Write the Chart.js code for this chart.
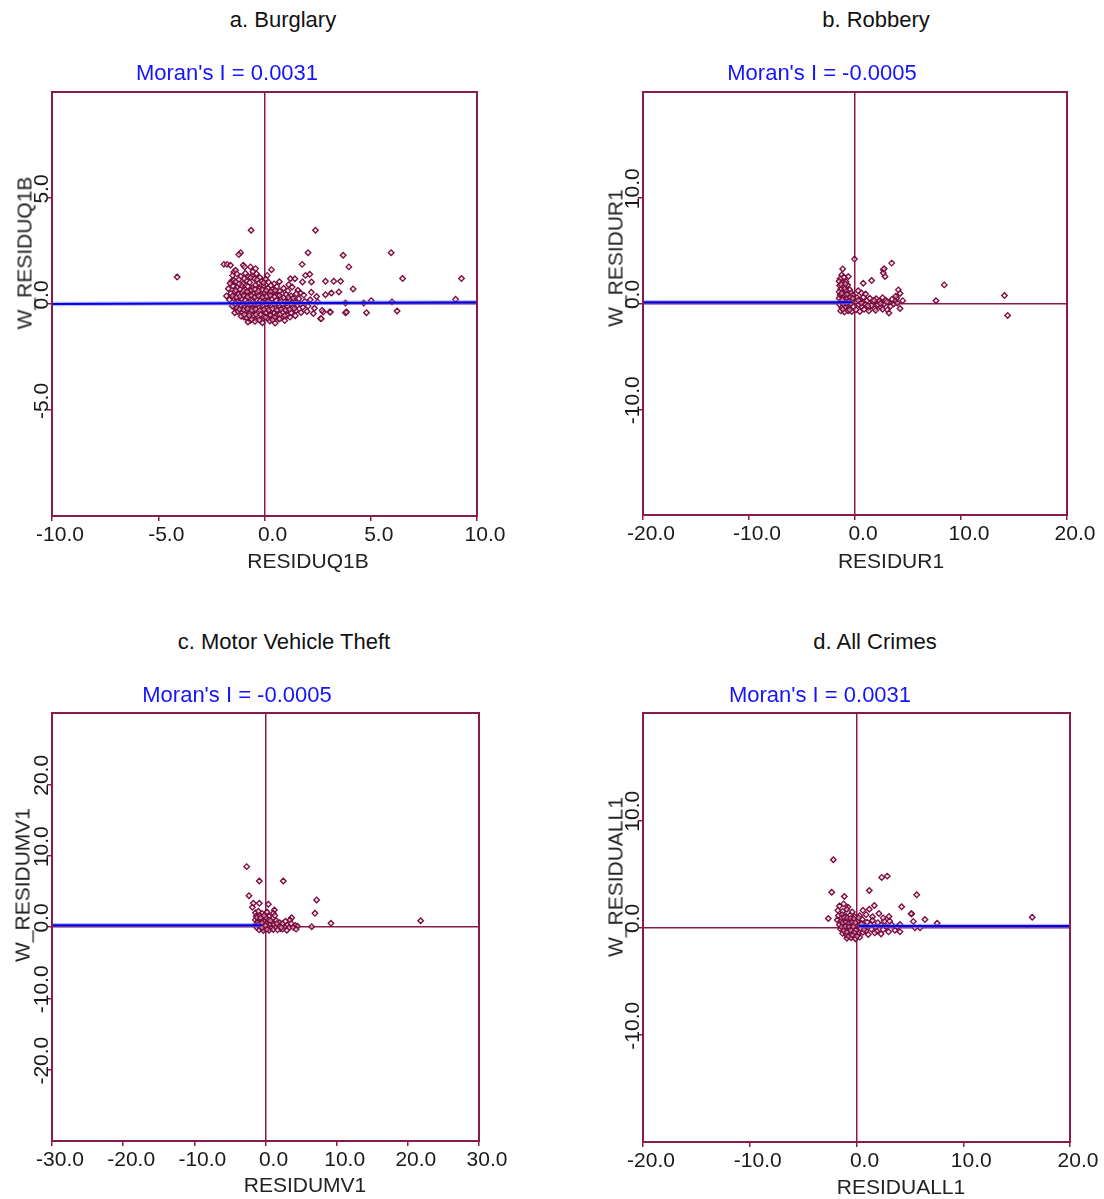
<!DOCTYPE html>
<html>
<head>
<meta charset="utf-8">
<script src="https://cdn.jsdelivr.net/npm/chart.js@4.4.1/dist/chart.umd.min.js"></script>
<style>
  body { margin: 0; background: #fff; width: 1104px; height: 1199px; position: relative; overflow: hidden; font-family: "Liberation Sans", Arial, sans-serif; }
  canvas { position: absolute; }
  .lbl { position: absolute; white-space: nowrap; transform: translate(-50%, -50%); line-height: 1; }
  .head { font-size: 22px; color: #111; }
  .moran { font-size: 22px; color: #1414ff; }
  .xt { font-size: 21px; color: #222; }
  .yt { font-size: 21px; color: #222; transform: translate(-50%, -50%) rotate(-90deg); }
</style>
</head>
<body>
<canvas id="burglary" width="560" height="480" style="left:0px;top:80px"></canvas>
<canvas id="robbery" width="524" height="480" style="left:580px;top:80px"></canvas>
<canvas id="motor" width="560" height="480" style="left:0px;top:701px"></canvas>
<canvas id="allcrimes" width="524" height="480" style="left:580px;top:701px"></canvas>

<div class="lbl head" style="left:283px;top:20px">a. Burglary</div>
<div class="lbl head" style="left:876px;top:20px">b. Robbery</div>
<div class="lbl head" style="left:284px;top:642px">c. Motor Vehicle Theft</div>
<div class="lbl head" style="left:875px;top:642px">d. All Crimes</div>

<div class="lbl moran" id="moranA" style="left:227px;top:73px"></div>
<div class="lbl moran" id="moranB" style="left:822px;top:73px"></div>
<div class="lbl moran" id="moranC" style="left:237px;top:695px"></div>
<div class="lbl moran" id="moranD" style="left:820px;top:695px"></div>

<div class="lbl xt" style="left:308px;top:560px">RESIDUQ1B</div>
<div class="lbl xt" style="left:891px;top:560px">RESIDUR1</div>
<div class="lbl xt" style="left:305px;top:1184px">RESIDUMV1</div>
<div class="lbl xt" style="left:901px;top:1186px">RESIDUALL1</div>

<div class="lbl yt" style="left:24px;top:253px">W_RESIDUQ1B</div>
<div class="lbl yt" style="left:615px;top:258px">W_RESIDUR1</div>
<div class="lbl yt" style="left:22px;top:885px">W_RESIDUMV1</div>
<div class="lbl yt" style="left:615px;top:877px">W_RESIDUALL1</div>

<script>
// ---- data ----
const moranValues = ['0.0031', '-0.0005', '-0.0005', '0.0031'];

const xTicksA = [-10, -5, 0, 5, 10];
const yTicksA = [-5, 0, 5];
const xTicksB = [-20, -10, 0, 10, 20];
const yTicksB = [-10, 0, 10];
const xTicksC = [-30, -20, -10, 0, 10, 20, 30];
const yTicksC = [-20, -10, 0, 10, 20];
const xTicksD = [-20, -10, 0, 10, 20];
const yTicksD = [-10, 0, 10];

// regression line ends (as seen on the plots)
const fitA = [[-10, 0.0], [10, 0.08]];
const fitB = [[-20, 0.12], [-0.3, 0.12]];
const fitC = [[-30, 0.25], [-0.6, 0.25]];
const fitD = [[0.2, 0.13], [20, 0.13]];

const burglaryPts = [
  [-4.11,1.27],[-0.63,3.48],[2.4,3.48],[-1.13,2.42],[-1.21,2.33],[2.05,2.42],[3.7,2.3],[5.96,2.42],
  [1.77,1.87],[3.97,1.75],[6.5,1.2],[9.27,1.2],[4.17,0.71],[8.99,0.22],[6.24,-0.33],[4.8,-0.41],
  [5.02,0.16],[3.81,-0.41],[3.07,-0.38],[2.87,0.44],[3.15,0.52],[3.5,0.57],[2.87,1.07],[3.26,1.07],
  [3.58,1.07],[2.21,1.04],[1.79,1.04],[1.93,1.35],[2.13,1.4],[1.22,1.19],[1.43,1.19],[1.14,0.91],
  [1.57,0.65],[1.69,0.52],[0.33,1.62],[0.13,1.35],[-1.79,0.38],[-1.91,1.87],[-1.76,1.87],[-1.6,1.83],
  [-1.44,1.51],[-1.36,1.59],[-1.0,1.83],[-0.93,1.75],[-0.66,1.75],[-0.42,1.67],[-0.38,1.43],[-0.58,1.35],
  [-1.55,1.07],[-1.44,1.12],[-1.4,-0.41],[-1.44,-0.14],[-0.97,-0.61],[-0.66,-0.77],[-0.42,-0.69],[-0.19,-0.77],
  [0.67,-0.69],[0.83,-0.61],[1.07,-0.53],[2.64,-0.69],[2.76,-0.38],[3.81,0.05],[4.67,0.05],[6.0,0.1],
  [3.86,-0.38],[2.71,-0.3],[3.1,-0.38],[2.67,-0.69],
  [-1.5,1.35],[-1.3,1.42],[-1.12,1.3],[-0.9,1.45],[-0.75,1.28],[-0.55,1.52],[-0.22,1.25],[0.05,1.18],
  [-1.62,0.98],[-1.35,1.05],[-1.2,1.15],[-1.02,0.95],[-0.85,1.1],[-0.7,1.02],[-0.48,1.2],[-0.3,0.98],
  [-0.12,1.08],[0.2,1.02],[0.45,0.95],[0.7,1.05],
  [-1.7,0.72],[-1.48,0.85],[-1.28,0.78],[-1.1,0.88],[-0.92,0.7],[-0.78,0.82],[-0.6,0.76],[-0.42,0.9],
  [-0.25,0.72],[-0.05,0.84],[0.15,0.75],[0.38,0.7],[0.58,0.82],[0.9,0.74],[1.3,0.8],
  [-1.58,0.5],[-1.4,0.58],[-1.22,0.45],[-1.05,0.55],[-0.88,0.42],[-0.7,0.6],[-0.52,0.48],[-0.35,0.56],
  [-0.18,0.4],[0.02,0.52],[0.22,0.46],[0.42,0.58],[0.62,0.42],[0.82,0.5],[1.02,0.45],[1.25,0.38],
  [1.5,0.48],[1.85,0.42],[2.2,0.55],[2.45,0.35],
  [-1.65,0.2],[-1.45,0.28],[-1.25,0.12],[-1.08,0.25],[-0.9,0.18],[-0.72,0.3],[-0.55,0.1],[-0.38,0.22],
  [-0.2,0.15],[0.0,0.28],[0.18,0.12],[0.35,0.25],[0.55,0.18],[0.75,0.3],[0.95,0.1],[1.15,0.22],
  [1.38,0.15],[1.62,0.25],[1.9,0.12],[2.15,0.2],[2.5,0.1],
  [-1.52,-0.1],[-1.3,-0.18],[-1.12,-0.05],[-0.95,-0.15],[-0.78,-0.08],[-0.6,-0.2],[-0.42,-0.05],[-0.25,-0.16],
  [-0.08,-0.1],[0.1,-0.2],[0.3,-0.06],[0.48,-0.15],[0.68,-0.08],[0.88,-0.2],[1.08,-0.1],[1.3,-0.18],
  [1.55,-0.05],[1.8,-0.15],[2.05,-0.1],[2.35,-0.2],
  [-1.25,-0.35],[-1.05,-0.42],[-0.88,-0.3],[-0.7,-0.45],[-0.5,-0.32],[-0.32,-0.4],[-0.12,-0.28],[0.05,-0.42],
  [0.25,-0.35],[0.45,-0.45],[0.65,-0.3],[0.85,-0.38],[1.05,-0.3],[1.25,-0.42],[1.48,-0.32],[1.72,-0.4],
  [2.0,-0.35],[2.3,-0.45],
  [-1.1,-0.58],[-0.85,-0.65],[-0.55,-0.55],[-0.3,-0.62],[-0.05,-0.55],[0.15,-0.68],[0.38,-0.6],[0.58,-0.52],
  [1.2,-0.62],[1.45,-0.55],
  [-0.78,-0.85],[-0.45,-0.82],[-0.1,-0.88],[0.25,-0.8],[0.5,-0.9],[0.95,-0.78],
  [-1.2,0.95],[-0.95,1.2],[-0.65,1.25],[-0.35,1.15],[-0.05,1.0],[0.3,0.88],
  [-1.35,0.65],[-1.15,0.7],[-0.98,0.62],[-0.82,0.58],[-0.62,0.66],[-0.45,0.7],[-0.28,0.62],[-0.1,0.68],
  [0.08,0.64],[0.3,0.58],[0.5,0.64],[0.72,0.6],[1.1,0.62],
  [-1.5,0.38],[-1.32,0.32],[-1.15,0.36],[-0.98,0.4],[-0.8,0.34],[-0.62,0.4],[-0.45,0.33],[-0.28,0.38],
  [-0.1,0.32],[0.1,0.36],[0.28,0.4],[0.48,0.34],[0.7,0.4],[0.9,0.3],[1.12,0.32],[1.35,0.28],
  [-1.38,0.02],[-1.18,0.06],[-1.0,0.03],[-0.82,0.05],[-0.65,0.0],[-0.48,0.04],[-0.3,0.02],[-0.12,0.06],
  [0.08,0.02],[0.25,0.05],[0.45,0.0],[0.65,0.04],[0.85,0.0],[1.05,0.05],[1.25,0.02],[1.45,0.06],[1.7,0.0],
  [-1.18,-0.25],[-0.98,-0.28],[-0.8,-0.22],[-0.6,-0.3],[-0.42,-0.24],[-0.22,-0.3],[-0.02,-0.25],[0.2,-0.28],
  [0.38,-0.22],[0.58,-0.28],[0.78,-0.24],[0.98,-0.28],[1.18,-0.25],[1.4,-0.22],
  [-0.95,-0.5],[-0.72,-0.55],[-0.4,-0.5],[-0.18,-0.5],[0.05,-0.62],[0.28,-0.52],[0.48,-0.62],[0.72,-0.5],
  [0.95,-0.55],[-0.6,-0.72],[-0.25,-0.75],[0.38,-0.75],[0.72,-0.7]
];

const robberyPts = [
  [-0.05,4.2],[3.46,3.82],[2.67,3.2],[2.83,2.55],[2.67,2.88],[2.75,3.3],[1.57,2.17],[0.78,1.92],
  [8.42,1.76],[7.64,0.26],[14.1,0.75],[14.4,-1.13],[4.09,1.29],[4.25,0.95],[3.93,0.5],[4.5,0.27],
  [4.25,-0.47],[-1.16,3.27],[-1.25,2.7],[-0.63,2.55],
  [-1.4,2.35],[-1.05,2.5],[-1.5,2.1],[-1.2,1.95],[-0.85,2.05],[-1.45,1.7],[-1.1,1.6],[-0.7,1.75],
  [-1.35,1.35],[-0.95,1.4],[-0.5,1.3],[-1.5,1.1],[-1.2,1.05],[-0.8,1.15],[-0.35,1.0],[-1.4,0.8],
  [-1.0,0.85],[-0.65,0.72],[-0.2,0.8],[-1.5,0.5],[-1.15,0.55],[-0.85,0.45],[-0.45,0.58],[-1.3,0.2],
  [-0.95,0.25],[-0.6,0.15],[-0.25,0.3],[-1.45,-0.1],[-1.1,-0.05],[-0.75,-0.15],[-0.4,-0.02],[-1.25,-0.4],
  [-0.9,-0.35],[-0.55,-0.45],[-0.15,-0.3],[-1.35,-0.7],[-1.0,-0.8],[-0.65,-0.68],[-0.3,-0.75],
  [0.2,0.55],[0.5,0.3],[0.8,0.6],[1.1,0.25],[1.4,0.5],[1.7,0.15],[2.0,0.45],[2.3,0.2],
  [2.6,0.55],[2.9,0.3],[3.2,0.1],[3.5,0.4],[3.8,0.2],[0.35,-0.1],[0.65,-0.3],[0.95,-0.05],
  [1.25,-0.4],[1.55,-0.15],[1.85,-0.5],[2.15,-0.1],[2.45,-0.35],[2.75,-0.05],[3.05,-0.6],[3.35,-0.25],
  [3.65,-0.05],[0.1,-0.6],[0.45,-0.75],[0.85,-0.55],[1.3,-0.7],[1.95,-0.65],[2.6,-0.55],[3.2,-0.9],
  [0.6,1.0],[1.0,0.9],[0.3,1.2],[3.85,0.7],[4.0,0.05],
  [-1.3,1.8],[-0.9,1.85],[-1.25,0.95],[-0.75,0.9],[-1.2,0.35],[-0.8,0.05],[-0.5,-0.6],[-1.15,-0.55],
  [-0.2,0.5],[0.6,0.05],[1.2,-0.2],[1.8,0.3],[2.4,0.0],[3.0,0.15],[0.3,0.3]
];

const motorPts = [
  [-2.64,8.46],[-0.87,6.45],[2.5,6.45],[-2.32,4.39],[-1.71,3.32],[-1.85,2.76],[-0.87,3.32],[0.4,3.18],
  [7.19,3.79],[6.95,1.92],[9.2,0.52],[6.49,0.04],[21.8,0.88],[1.24,2.38],[1.1,1.92],[3.68,1.3],[3.44,0.98],
  [-1.4,2.0],[-1.0,2.2],[-0.5,1.9],[0.2,2.1],[-1.3,1.5],[-0.8,1.6],[-0.3,1.4],[0.5,1.5],
  [1.0,1.2],[-1.45,1.0],[-1.0,0.9],[-0.6,1.1],[-0.1,0.8],[0.4,1.0],[0.9,0.7],[1.5,0.9],
  [2.0,0.6],[-1.3,0.4],[-0.9,0.5],[-0.4,0.3],[0.1,0.5],[0.6,0.3],[1.2,0.4],[1.8,0.2],
  [2.4,0.5],[3.0,0.3],[3.6,0.5],[4.2,0.2],[-1.2,-0.1],[-0.7,0.0],[-0.2,-0.2],[0.3,0.05],
  [0.8,-0.15],[1.4,-0.05],[2.1,-0.2],[2.7,0.0],[3.3,-0.1],[3.9,-0.05],[4.5,0.1],[-0.9,-0.4],
  [-0.3,-0.5],[0.5,-0.45],[1.1,-0.35],[1.7,-0.4],[2.4,-0.3],[3.0,-0.45],[4.3,-0.3],[-1.1,0.7],
  [0.0,1.3],[1.3,1.6],[2.8,0.8],[-0.5,0.6],
  [-1.2,1.3],[-0.7,1.3],[-1.0,0.3],[-0.5,-0.1],[0.2,-0.3],[0.7,0.9],[1.6,0.5],[2.2,-0.05],
  [-0.2,1.6],[0.0,0.2]
];

const allCrimesPts = [
  [-2.17,6.32],[2.36,4.67],[2.88,4.79],[-2.32,3.29],[1.2,3.45],[5.64,3.05],[-1.14,2.89],[4.23,1.93],
  [1.67,2.05],[5.17,1.28],[5.12,1.28],[-2.64,0.84],[6.41,0.74],[7.55,0.4],[5.32,0.57],[3.04,1.03],
  [4.07,0.28],[4.07,-0.4],[16.46,0.96],[5.95,-0.03],[5.48,-0.03],
  [-1.6,2.0],[-1.2,2.2],[-0.8,1.9],[-1.75,1.6],[-1.3,1.5],[-0.9,1.7],[-0.4,1.45],[0.6,1.6],
  [1.2,1.7],[-1.7,1.1],[-1.35,1.2],[-1.0,1.05],[-0.6,1.15],[-0.2,1.0],[0.3,1.1],[0.9,1.2],
  [1.5,1.0],[2.1,1.3],[-1.8,0.7],[-1.45,0.6],[-1.1,0.75],[-0.75,0.55],[-0.35,0.7],[0.1,0.6],
  [0.55,0.75],[1.0,0.5],[1.5,0.65],[2.0,0.45],[2.6,0.6],[-1.6,0.25],[-1.25,0.3],[-0.9,0.15],
  [-0.5,0.35],[-0.1,0.2],[0.35,0.3],[0.8,0.1],[1.3,0.25],[1.8,0.05],[2.3,0.2],[2.8,0.1],
  [3.3,0.25],[3.8,0.05],[-1.5,-0.15],[-1.15,-0.1],[-0.8,-0.3],[-0.45,-0.05],[-0.05,-0.25],[0.4,-0.1],
  [0.9,-0.3],[1.4,-0.15],[1.9,-0.35],[2.5,-0.2],[3.0,-0.4],[3.6,-0.25],[-1.3,-0.55],[-0.95,-0.7],
  [-0.6,-0.5],[-0.25,-0.75],[0.15,-0.6],[0.6,-0.45],[1.1,-0.65],[1.7,-0.5],[2.3,-0.6],[-0.9,-1.0],
  [-0.5,-0.95],[-0.1,-1.05],[0.3,-0.9],[2.5,0.9],[3.1,0.6],
  [-1.4,0.9],[-1.15,0.95],[-0.85,0.9],[-0.55,0.85],[-0.25,0.8],[-1.3,0.45],[-1.0,0.5],[-0.7,0.4],
  [-0.4,0.5],[-0.1,0.45],[-1.4,0.05],[-1.05,0.1],[-0.7,0.05],[-0.3,0.08],[-1.2,-0.3],[-0.9,-0.45],
  [-0.55,-0.25],[-0.2,-0.5],[-0.75,-0.8],[-0.4,-0.7],[0.05,-0.8],[0.2,0.9],[0.5,0.35],[0.7,-0.2]
];

// ---- drawing ----
const MAROON = '#8a1a4e';
const FONT = { family: '"Liberation Sans", Arial, sans-serif', size: 21 };

['moranA', 'moranB', 'moranC', 'moranD'].forEach((id, i) => {
  document.getElementById(id).textContent = "Moran's I = " + moranValues[i];
});

// keeps rotated y tick labels just left of the frame
function yLabelPad(ticks) {
  const c = document.createElement('canvas').getContext('2d');
  c.font = '21px "Liberation Sans", Arial, sans-serif';
  let w = 0;
  ticks.forEach(t => { w = Math.max(w, c.measureText(t.toFixed(1)).width); });
  return 4.5 - w / 2;
}

const plotFrame = {
  id: 'plotFrame',
  afterDraw(chart) {
    const { ctx, chartArea: a } = chart;
    ctx.save();
    ctx.strokeStyle = MAROON;
    ctx.lineWidth = 2;
    ctx.strokeRect(a.left, a.top, a.right - a.left, a.bottom - a.top);
    ctx.restore();
  }
};

const zeroGrid = c => (c.tick && c.tick.value === 0) ? MAROON : 'rgba(0,0,0,0)';
const toXY = arr => arr.map(([x, y]) => ({ x, y }));

const makePanel = (id, canvasPos, box, range, xTicks, yTicks, pts, fit) => {
  const cv = document.getElementById(id);
  const w = cv.width, h = cv.height;
  const axisW = box[0] - canvasPos[0];
  const padTop = box[1] - canvasPos[1];
  const padRight = canvasPos[0] + w - box[2];
  const axisH = canvasPos[1] + h - box[3];

  new Chart(cv, {
    type: 'scatter',
    data: {
      datasets: [
        { type: 'line', data: toXY(fit), borderColor: '#0000e8', borderWidth: 2, pointRadius: 0, showLine: true },
        { type: 'line', data: toXY(fit), borderColor: 'rgba(110,110,255,0.45)', borderWidth: 4.5, pointRadius: 0, showLine: true },
        {
          data: toXY(pts),
          pointStyle: 'rectRot',
          pointRadius: 2.8,
          borderWidth: 1.3,
          borderColor: '#7a0a3e',
          backgroundColor: 'rgba(236,205,220,0.55)'
        }
      ]
    },
    options: {
      responsive: false,
      animation: false,
      devicePixelRatio: 1,
      layout: { padding: { left: 0, top: padTop, right: padRight, bottom: 0 } },
      plugins: { legend: { display: false }, tooltip: { enabled: false }, title: { display: false } },
      scales: {
        x: {
          type: 'linear', min: range[0], max: range[1],
          afterBuildTicks: s => { s.ticks = xTicks.map(v => ({ value: v })); },
          afterFit: s => { s.height = axisH; },
          border: { display: false },
          grid: { color: zeroGrid, lineWidth: 1.5, tickColor: MAROON, tickLength: 5, drawTicks: true },
          ticks: {
            callback: v => v.toFixed(1), autoSkip: false, minRotation: 0, maxRotation: 0,
            labelOffset: 8, padding: 2, color: '#1a1a1a', font: FONT
          }
        },
        y: {
          type: 'linear', min: range[2], max: range[3],
          afterBuildTicks: s => { s.ticks = yTicks.map(v => ({ value: v })); },
          afterFit: s => { s.width = axisW; },
          border: { display: false },
          grid: { color: zeroGrid, lineWidth: 1.5, tickColor: MAROON, tickLength: 5, drawTicks: true },
          ticks: {
            callback: v => v.toFixed(1), autoSkip: false, minRotation: 90, maxRotation: 90,
            crossAlign: 'center', labelOffset: -9, padding: yLabelPad(yTicks),
            color: '#1a1a1a', font: FONT
          }
        }
      }
    },
    plugins: [plotFrame]
  });
};

makePanel('burglary', [0, 80], [52, 92, 477, 516], [-10, 10, -10, 10], xTicksA, yTicksA, burglaryPts, fitA);
makePanel('robbery', [580, 80], [643, 92, 1067, 515], [-20, 20, -20, 20], xTicksB, yTicksB, robberyPts, fitB);
makePanel('motor', [0, 701], [52, 713, 479, 1141], [-30, 30, -30, 30], xTicksC, yTicksC, motorPts, fitC);
makePanel('allcrimes', [580, 701], [643, 713, 1070, 1142], [-20, 20, -20, 20], xTicksD, yTicksD, allCrimesPts, fitD);
</script>
</body>
</html>
